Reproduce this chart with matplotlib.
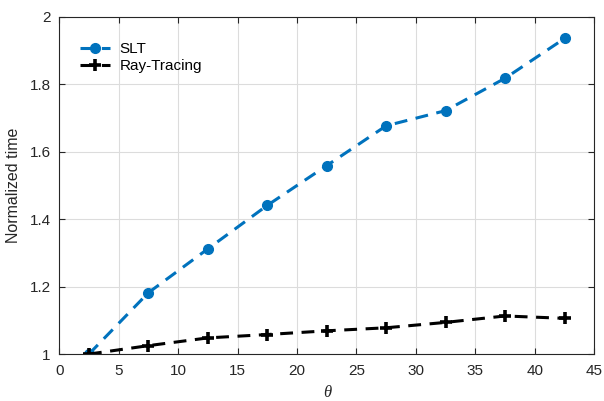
import numpy as np
import matplotlib
matplotlib.use('Agg')
import matplotlib.pyplot as plt

# dades llegides de la figura
theta = [2.5, 7.5, 12.5, 17.5, 22.5, 27.5, 32.5, 37.5, 42.5]
slt = [1.0, 1.182, 1.312, 1.441, 1.559, 1.677, 1.722, 1.818, 1.936]
ray = [1.0, 1.025, 1.048, 1.058, 1.069, 1.078, 1.094, 1.113, 1.106]

xticks = list(range(0, 50, 5))
yticks = [1, 1.2, 1.4, 1.6, 1.8, 2]
ylabels = ['1', '1.2', '1.4', '1.6', '1.8', '2']

plt.rcParams['font.family'] = ['Liberation Sans', 'DejaVu Sans']

fig = plt.figure(figsize=(6.04, 4.01), dpi=100)
ax = fig.add_axes([0.098, 0.117, 0.886, 0.841])

guions = (4.2, 2.8)
ax.plot(theta, slt, '--o', color='#0072BD', linewidth=2.2, markersize=7,
        dashes=guions, label='SLT')
ax.plot(theta, ray, '--', color='black', linewidth=2.2, dashes=guions)
ax.plot(theta, ray, linestyle='none', marker='+', color='black',
        markersize=8, markeredgewidth=2.6)
# entrada de la llegenda per Ray-Tracing
ax.plot([], [], '--', marker='+', color='black', linewidth=2.2, markersize=8,
        markeredgewidth=2.6, dashes=guions, label='Ray-Tracing')

ax.set_xlim(0, 45)
ax.set_ylim(1, 2)
ax.set_xticks(xticks)
ax.set_yticks(yticks)
ax.set_yticklabels(ylabels)
ax.tick_params(axis='x', pad=7)
ax.tick_params(direction='in', length=4, labelsize=11, colors='#262626',
               top=True, right=True)
ax.tick_params(axis='y', pad=6)
ax.grid(True, color='#dcdcdc', linewidth=0.8)
ax.set_axisbelow(True)
for s in ax.spines.values():
    s.set_color('#262626')
    s.set_linewidth(0.8)

ax.set_xlabel('θ', family='Liberation Serif', style='italic', fontsize=12,
              color='#262626', labelpad=5)
ax.set_ylabel('Normalized time', fontsize=11.5, color='#262626', labelpad=6)

ax.legend(loc='upper left', frameon=False, fontsize=11, handlelength=2.0,
          borderaxespad=0.6, labelspacing=0.2, handletextpad=0.6,
          bbox_to_anchor=(0.01, 0.97))

plt.savefig('out.png', dpi=100)
